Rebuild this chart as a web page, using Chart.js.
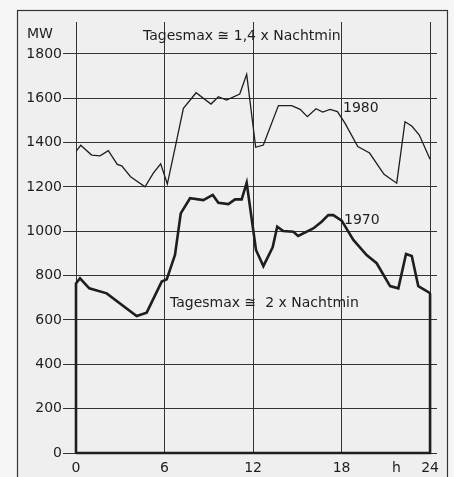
<!DOCTYPE html>
<html>
<head>
<meta charset="utf-8">
<script src="https://cdn.jsdelivr.net/npm/chart.js@4.4.0/dist/chart.umd.min.js"></script>
<style>
  html, body { margin: 0; padding: 0; background: #f6f6f6; }
  #wrap { width: 454px; height: 477px; }
</style>
</head>
<body>
<div id="wrap"><canvas id="myChart" width="454" height="477"></canvas></div>
<script>
'use strict';

// load curve 1980 (thin line)
const hours1980 = [0, 0.32, 1.06, 1.63, 2.19, 2.8, 3.1, 3.7, 4.68, 5.24, 5.74, 6.19, 6.78, 7.28, 8.14, 9.15, 9.65, 10.2, 11.1, 11.57, 12.18, 12.7, 13.72, 14.62, 15.19, 15.68, 16.27, 16.72, 17.22, 17.72, 18.24, 19.1, 19.9, 20.88, 21.74, 22.3, 22.76, 23.27, 24];
const mw1980 = [1360, 1388, 1344, 1340, 1364, 1302, 1295, 1246, 1201, 1262, 1304, 1213, 1397, 1555, 1625, 1574, 1607, 1592, 1619, 1708, 1379, 1389, 1567, 1567, 1550, 1517, 1553, 1538, 1550, 1540, 1487, 1382, 1353, 1257, 1217, 1494, 1475, 1434, 1325];

// load curve 1970 (thick line)
const hours1970 = [0, 0.27, 0.9, 2.08, 4.11, 4.79, 5.81, 6.15, 6.71, 7.1, 7.73, 8.63, 9.27, 9.65, 10.33, 10.78, 11.23, 11.57, 12.2, 12.7, 13.33, 13.64, 14.05, 14.73, 15.06, 16.08, 16.65, 17.1, 17.44, 18.01, 18.8, 19.7, 20.38, 21.29, 21.85, 22.37, 22.76, 23.2, 23.95, 24];
const mw1970 = [765, 788, 743, 720, 618, 633, 773, 783, 893, 1081, 1149, 1141, 1164, 1129, 1123, 1144, 1144, 1219, 916, 843, 928, 1021, 1001, 998, 979, 1013, 1043, 1073, 1073, 1048, 961, 893, 856, 753, 743, 898, 889, 753, 723, 718];

const xTicks = [0, 6, 12, 18, 24];
const yTicks = [0, 200, 400, 600, 800, 1000, 1200, 1400, 1600, 1800];

const ink = '#1e1e1e';
const font = 'DejaVu Sans';

function toPoints(xs, ys) {
  let pts = [];
  for (let i = 0; i < xs.length; i++) {
    pts.push({ x: xs[i], y: ys[i] });
  }
  return pts;
}

// 1970 curve is drawn closed down to the zero line, like in the original
let pts1970 = toPoints(hours1970, mw1970);
pts1970.unshift({ x: hours1970[0], y: 0 });
pts1970.push({ x: hours1970[hours1970.length - 1], y: 0 });
pts1970.push({ x: hours1970[0], y: 0 });

// frame + background
const framePlugin = {
  id: 'frame',
  beforeDraw(chart) {
    const c = chart.ctx;
    c.save();
    c.fillStyle = '#efefef';
    c.fillRect(17, 10, 431, 470);
    c.strokeStyle = '#333';
    c.lineWidth = 1.2;
    c.strokeRect(17.5, 10.5, 430, 480);
    c.restore();
  }
};

// texts written on the chart
const labels = [
  { text: 'MW', x: 27, y: 34, size: 14 },
  { text: 'Tagesmax \u2245 1,4 x Nachtmin', x: 143, y: 36, size: 14 },
  { text: '1980', x: 343, y: 108, size: 14 },
  { text: '1970', x: 344, y: 220, size: 14 },
  { text: 'Tagesmax \u2245  2 x Nachtmin', x: 170, y: 303, size: 14 },
  { text: 'h', x: 392, y: 468, size: 14 }
];

const textPlugin = {
  id: 'texts',
  afterDraw(chart) {
    const c = chart.ctx;
    c.save();
    c.fillStyle = ink;
    c.textBaseline = 'middle';
    c.textAlign = 'left';
    labels.forEach(l => {
      c.font = l.size + 'px "' + font + '"';
      c.fillText(l.text, l.x, l.y);
    });
    c.restore();
  }
};

let ctx = document.getElementById('myChart').getContext('2d');
let chart = new Chart(ctx, {
  type: 'line',
  data: {
    datasets: [{
      label: '1980',
      data: toPoints(hours1980, mw1980),
      borderColor: ink,
      borderWidth: 1.3,
      pointRadius: 0,
      tension: 0,
      fill: false
    },
    {
      label: '1970',
      data: pts1970,
      borderColor: ink,
      borderWidth: 2.6,
      borderJoinStyle: 'miter',
      pointRadius: 0,
      tension: 0,
      fill: false,
      clip: 4
    }]
  },
  options: {
    responsive: false,
    animation: false,
    events: [],
    layout: { padding: { left: 0, top: 22, right: 17, bottom: 0 } },
    plugins: {
      legend: { display: false },
      tooltip: { enabled: false }
    },
    scales: {
      x: {
        type: 'linear',
        min: 0,
        max: 24.47,
        afterBuildTicks: axis => { axis.ticks = xTicks.map(v => ({ value: v })); },
        afterFit: axis => { axis.height = 24; },
        border: { display: false },
        grid: { color: '#333', lineWidth: 1, drawTicks: false },
        ticks: { color: ink, font: { family: font, size: 14 }, padding: 7, maxRotation: 0, callback: v => String(v) }
      },
      y: {
        type: 'linear',
        min: 0,
        max: 1944,
        afterBuildTicks: axis => { axis.ticks = yTicks.map(v => ({ value: v })); },
        afterFit: axis => { axis.width = 76; },
        border: { display: false },
        grid: { color: '#333', lineWidth: 1, tickLength: 13 },
        ticks: { color: ink, font: { family: font, size: 14 }, padding: 1, callback: v => String(v) }
      }
    }
  },
  plugins: [framePlugin, textPlugin]
});
</script>
</body>
</html>
